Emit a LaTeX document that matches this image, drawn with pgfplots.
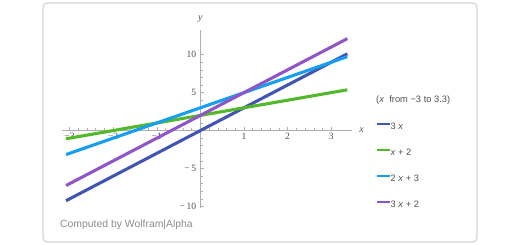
\documentclass[border=0pt]{standalone}
\usepackage{pgfplots}
\pgfplotsset{compat=1.18}
\usepackage{fontspec}
\setmainfont{Liberation Sans}
\newfontfamily\seriffont{Liberation Serif}
\definecolor{cA}{RGB}{66,85,176}
\definecolor{cB}{RGB}{84,185,42}
\definecolor{cC}{RGB}{22,158,240}
\definecolor{cD}{RGB}{144,86,200}
\definecolor{axgray}{RGB}{175,175,175}
\definecolor{txtgray}{RGB}{80,80,80}
\definecolor{framegray}{RGB}{212,212,212}
\definecolor{creditgray}{RGB}{140,140,140}
\begin{document}
\begin{tikzpicture}[x=1pt,y=1pt]
\useasboundingbox (0,0) rectangle (520,245);
\draw[rounded corners=4pt, draw=framegray, line width=1.1pt] (43,3) rectangle (477,242);
\begin{axis}[
  at={(61.7pt,37pt)}, anchor=south west,
  scale only axis, width=290pt, height=178pt,
  xmin=-3.18, xmax=3.47, ymin=-10.2, ymax=13.25,
  clip=false,
  axis lines=middle,
  axis line style={-, axgray, line width=0.6pt},
  tick style={axgray, line width=0.5pt},
  major tick length=4pt, minor tick length=2.2pt,
  tick align=inside,
  xtick={-3,-2,-1,0,1,2,3},
  xticklabels={−3,−2,−1,{},1,2,3},
  minor x tick num=4,
  ytick={-10,-5,0,5,10},
  yticklabels={−\,10,−\,5,{},5,10},
  minor y tick num=4,
  x tick label style={font=\fontsize{9.6}{10}\seriffont, text=txtgray, anchor=north, inner sep=2.3pt},
  y tick label style={font=\fontsize{9.6}{10}\seriffont, text=txtgray, anchor=east, inner sep=4pt},
  xlabel={x}, ylabel={y},
  xlabel style={font=\fontsize{10}{10}\seriffont\itshape, text=txtgray, at={(axis description cs:1.0345,0.435)}, anchor=center},
  ylabel style={font=\fontsize{10}{10}\seriffont\itshape, text=txtgray, at={(axis description cs:0.478,1.062)}, anchor=center},
  legend style={at={(axis description cs:1.0838,0.478)}, anchor=north west, draw=none, fill=none,
    font=\fontsize{9.3}{10}\selectfont, text=txtgray, row sep=18pt, inner sep=0pt,
    nodes={inner sep=0pt, text height=6.5pt, text depth=1.5pt},
    /tikz/every even column/.append style={column sep=4pt}},
  legend cell align=left,
  legend image code/.code={\draw[#1, line width=1.3pt] (0pt,3pt) -- (13pt,3pt);},
]
\addplot[cA, line width=3.1pt] coordinates {(-3.08,-9.24) (3.37,10.11)};
\addlegendentry{3 \textit{x}}
\addplot[cB, line width=3.1pt] coordinates {(-3.08,-1.08) (3.37,5.37)};
\addlegendentry{\textit{x} + 2}
\addplot[cC, line width=3.1pt] coordinates {(-3.08,-3.16) (3.37,9.74)};
\addlegendentry{2 \textit{x} + 3}
\addplot[cD, line width=3.1pt] coordinates {(-3.08,-7.24) (3.37,12.11)};
\addlegendentry{3 \textit{x} + 2}
\end{axis}
\node[anchor=west, inner sep=0pt, font=\fontsize{9.3}{10}\selectfont, text=txtgray] at (376,145) {(\textit{x}\ \ from −3 to 3.3)};
\node[anchor=west, inner sep=0pt, font=\fontsize{10.4}{12}\selectfont, text=creditgray] at (60,20) {Computed by Wolfram|Alpha};
\end{tikzpicture}
\end{document}
